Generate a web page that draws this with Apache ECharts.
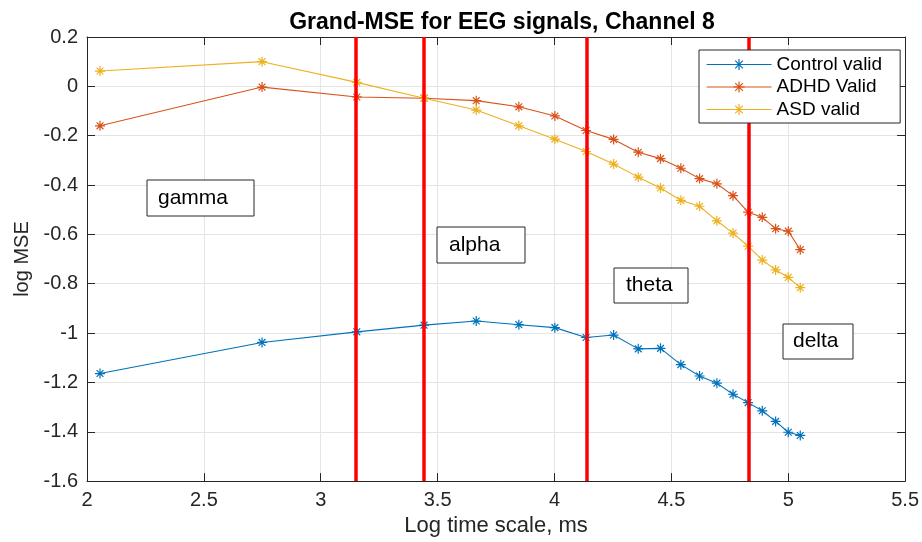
<!DOCTYPE html>
<html>
<head>
<meta charset="utf-8">
<script src="https://cdn.jsdelivr.net/npm/echarts@6/dist/echarts.min.js"></script>
<style>
html,body{margin:0;padding:0;background:#fff;}
#chart{width:922px;height:542px;}
</style>
</head>
<body>
<div id="chart"></div>
<script>
// Log time scale (ms) values shared by all three curves
var logScale = [2.0557, 2.7489, 3.1543, 3.4420, 3.6652, 3.8475, 4.0016, 4.1352, 4.2529, 4.3583,
                4.4536, 4.5406, 4.6207, 4.6948, 4.7638, 4.8283, 4.8889, 4.9461, 5.0001, 5.0515];
var controlValid = [-1.164, -1.038, -0.995, -0.968, -0.951, -0.966, -0.978, -1.018, -1.008, -1.064,
                    -1.062, -1.128, -1.174, -1.203, -1.248, -1.282, -1.315, -1.358, -1.402, -1.415];
var adhdValid = [-0.160, -0.003, -0.043, -0.048, -0.058, -0.083, -0.120, -0.179, -0.215, -0.267,
                 -0.293, -0.332, -0.374, -0.395, -0.443, -0.510, -0.531, -0.577, -0.587, -0.662];
var asdValid = [0.062, 0.100, 0.016, -0.048, -0.096, -0.160, -0.214, -0.264, -0.315, -0.368,
                -0.412, -0.462, -0.486, -0.545, -0.595, -0.648, -0.704, -0.744, -0.774, -0.816];
// Band boundaries (red vertical lines)
var bandEdges = [3.1543, 3.4420, 4.1352, 4.8283];
var seriesNames = ['Control valid', 'ADHD Valid', 'ASD valid'];
var bandLabels = ['gamma', 'alpha', 'theta', 'delta'];
var titleText = 'Grand-MSE for EEG signals, Channel 8';
var xLabel = 'Log time scale, ms';
var yLabel = 'log MSE';

var FONT = '"Liberation Sans", Arial, Helvetica, sans-serif';
var AX = '#262626';
var colors = ['#0072BD', '#D95319', '#EDB120'];
var STAR = 'path://M5,0L5,10M0,5L10,5M1.6,1.6L8.4,8.4M8.4,1.6L1.6,8.4';

function pairs(xs, ys) { return xs.map(function (x, i) { return [x, ys[i]]; }); }

function dataSeries(name, ys, color) {
  return {
    name: name, type: 'line', data: pairs(logScale, ys),
    symbol: STAR, symbolSize: 10, z: 3,
    lineStyle: { color: color, width: 1.1 },
    itemStyle: { color: color, borderColor: color, borderWidth: 1.2 },
    emphasis: { disabled: true }, animation: false
  };
}

function axisCommon(pos, showLabel) {
  return {
    position: pos,
    axisLine: { show: true, onZero: false, lineStyle: { color: AX, width: 1 } },
    axisTick: { show: true, inside: true, length: 8, lineStyle: { color: AX, width: 1 } },
    axisLabel: { show: showLabel, color: AX, fontSize: 20, fontFamily: FONT, margin: 9 },
    splitLine: { show: showLabel, lineStyle: { color: '#e4e4e4', width: 1 } }
  };
}

var chart = echarts.init(document.getElementById('chart'), null, { renderer: 'canvas' });

var xBottom = Object.assign(axisCommon('bottom', true), {
  type: 'value', min: 2, max: 5.5, interval: 0.5,
  name: xLabel, nameLocation: 'middle', nameGap: 33,
  nameTextStyle: { color: AX, fontSize: 22, fontFamily: FONT }
});
var xTop = Object.assign(axisCommon('top', false), { type: 'value', min: 2, max: 5.5, interval: 0.5 });
var yLeft = Object.assign(axisCommon('left', true), {
  type: 'value', min: -1.6, max: 0.2, interval: 0.2,
  name: yLabel, nameLocation: 'middle', nameGap: 50,
  nameTextStyle: { color: AX, fontSize: 20, fontFamily: FONT }
});
var yRight = Object.assign(axisCommon('right', false), { type: 'value', min: -1.6, max: 0.2, interval: 0.2 });

var boxes = [
  { x: 147, y: 180, w: 107, h: 36, tx: 158 },
  { x: 437, y: 227, w: 88, h: 36, tx: 449 },
  { x: 614, y: 268, w: 74, h: 35, tx: 626 },
  { x: 783, y: 324, w: 70, h: 35, tx: 793 }
];
var graphics = [];
boxes.forEach(function (b, i) {
  graphics.push({ type: 'rect', z: 100, shape: { x: b.x, y: b.y, width: b.w, height: b.h },
    style: { fill: '#fff', stroke: AX, lineWidth: 1 } });
  graphics.push({ type: 'text', z: 101, x: b.tx, y: b.y + b.h / 2,
    style: { text: bandLabels[i], fill: '#000', font: '21px ' + FONT, verticalAlign: 'middle', textVerticalAlign: 'middle' } });
});

chart.setOption({
  animation: false,
  backgroundColor: '#fff',
  textStyle: { fontFamily: FONT },
  title: {
    text: titleText, left: 497, top: 6, textAlign: 'center',
    textStyle: { color: '#000', fontSize: 23, fontWeight: 'bold', fontFamily: FONT }
  },
  grid: { left: 87, right: 16, top: 37, bottom: 55, containLabel: false },
  legend: {
    orient: 'vertical', left: 699, top: 50,
    padding: [5, 18, 4, 7], itemGap: 3.5, itemWidth: 65, itemHeight: 14,
    backgroundColor: '#fff', borderColor: AX, borderWidth: 1,
    lineStyle: { width: 1.1 },
    itemStyle: { borderWidth: 1.2 },
    textStyle: { color: '#000', fontSize: 19, fontFamily: FONT },
    data: seriesNames, z: 100
  },
  xAxis: [xBottom, xTop],
  yAxis: [yLeft, yRight],
  series: [
    {
      name: 'bands', type: 'line', data: [], z: 2, silent: true,
      markLine: {
        silent: true, symbol: 'none', animation: false,
        label: { show: false },
        lineStyle: { color: '#FF0000', width: 3.5, type: 'solid' },
        data: bandEdges.map(function (v) { return { xAxis: v }; })
      }
    },
    dataSeries(seriesNames[0], controlValid, colors[0]),
    dataSeries(seriesNames[1], adhdValid, colors[1]),
    dataSeries(seriesNames[2], asdValid, colors[2])
  ],
  graphic: graphics
});
</script>
</body>
</html>
